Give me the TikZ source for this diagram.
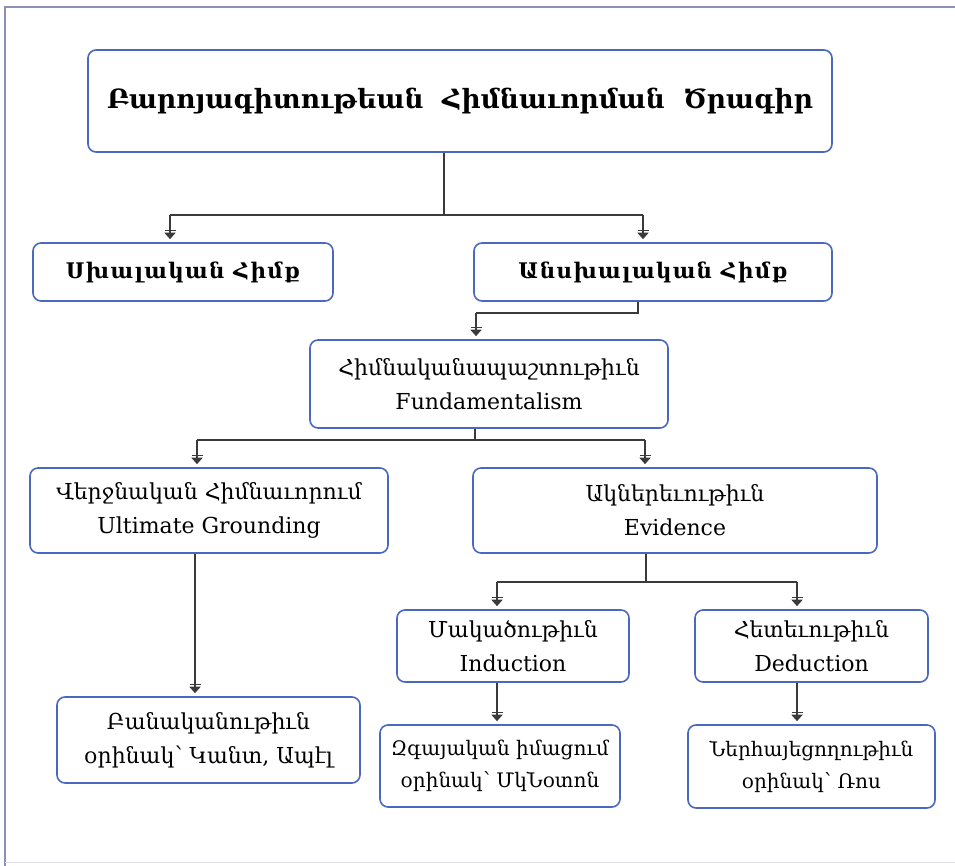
\documentclass[tikz,border=0pt]{standalone}
\usepackage{fontspec}
\setmainfont{DejaVu Serif}
\usetikzlibrary{arrows.meta}
\definecolor{boxblue}{HTML}{4A68BE}
\definecolor{linegray}{HTML}{3A3A3A}
\definecolor{framegray}{HTML}{8C90B4}
\tikzset{
  box/.style={draw=boxblue, line width=1.6pt, rounded corners=8pt, fill=white,
    align=center, inner sep=0pt, font=\fontsize{22}{34}\selectfont},
  conn/.style={draw=linegray, line width=1.6pt},
  arr/.style={conn, -{Bar[width=11pt,line width=1.6pt,sep=1.5pt] Triangle[width=11pt,length=6.5pt]}, shorten >=3pt},
}
\begin{document}
\begin{tikzpicture}[x=1pt,y=-1pt]
\useasboundingbox (0,0) rectangle (955,866);
\draw[framegray, line width=2pt] (5,866) -- (5,7) -- (955,7);
\draw[framegray!30, line width=1pt] (5,862) -- (955,862);

\node[box, minimum width=744pt, minimum height=102pt, font=\fontsize{26.5}{30}\selectfont\bfseries] (title) at (460,101) {Բարոյագիտութեան\ \ Հիմնաւորման\ \ Ծրագիր};
\node[box, minimum width=300pt, minimum height=58pt, font=\fontsize{21.5}{24}\selectfont\bfseries\addfontfeatures{LetterSpace=6}] (sx) at (183,272) {Սխալական Հիմք};
\node[box, minimum width=358pt, minimum height=58pt, font=\fontsize{21.5}{24}\selectfont\bfseries\addfontfeatures{LetterSpace=6}] (ansx) at (653,272) {Անսխալական Հիմք};
\node[box, minimum width=358pt, minimum height=88pt] (fund) at (489,384) {Հիմնականապաշտութիւն\\Fundamentalism};
\node[box, minimum width=358pt, minimum height=85pt] (ult) at (209,510.5) {Վերջնական Հիմնաւորում\\Ultimate Grounding};
\node[box, minimum width=404pt, minimum height=85pt] (evid) at (675,510.5) {Ակներեւութիւն\\Evidence};
\node[box, minimum width=232pt, minimum height=72pt] (ind) at (513,646) {Մակածութիւն\\Induction};
\node[box, minimum width=233pt, minimum height=72pt] (ded) at (811.5,646) {Հետեւութիւն\\Deduction};
\node[box, minimum width=303pt, minimum height=86pt] (ban) at (208.5,740) {Բանականութիւն\\օրինակ՝ Կանտ, Ապէլ};
\node[box, minimum width=240pt, minimum height=82pt, font=\fontsize{20}{32}\selectfont] (zga) at (500,766) {Զգայական իմացում\\օրինակ՝ ՄկՆօտոն};
\node[box, minimum width=247pt, minimum height=83pt, font=\fontsize{20}{32}\selectfont] (ner) at (811.5,766.5) {Ներհայեցողութիւն\\օրինակ՝ Ռոս};

% title -> two bases
\coordinate (j1) at (444,215);
\coordinate (a1) at (170,215);
\coordinate (a2) at (643,215);
\draw[conn] (title.south -| j1) -- (j1);
\draw[conn] (a1) -- (a2);
\draw[arr] (a1) -- (a1 |- sx.north);
\draw[arr] (a2) -- (a2 |- ansx.north);

% ansx -> fund
\coordinate (j2) at (638,313);
\coordinate (a3) at (476,313);
\draw[conn] (ansx.south -| j2) -- (j2) -- (a3);
\draw[arr] (a3) -- (a3 |- fund.north);

% fund -> ult, evid
\coordinate (j3) at (475,440);
\coordinate (a4) at (197,440);
\coordinate (a5) at (645,440);
\draw[conn] (fund.south -| j3) -- (j3);
\draw[conn] (a4) -- (a5);
\draw[arr] (a4) -- (a4 |- ult.north);
\draw[arr] (a5) -- (a5 |- evid.north);

% ult -> ban
\coordinate (a6) at (195,553);
\draw[arr] (ult.south -| a6) -- (a6 |- ban.north);

% evid -> ind, ded
\coordinate (j4) at (646,582);
\coordinate (a7) at (497,582);
\coordinate (a8) at (797,582);
\draw[conn] (evid.south -| j4) -- (j4);
\draw[conn] (a7) -- (a8);
\draw[arr] (a7) -- (a7 |- ind.north);
\draw[arr] (a8) -- (a8 |- ded.north);

% ind -> zga, ded -> ner
\coordinate (a9) at (497,682);
\coordinate (a10) at (797,682);
\draw[arr] (ind.south -| a9) -- (a9 |- zga.north);
\draw[arr] (ded.south -| a10) -- (a10 |- ner.north);
\end{tikzpicture}
\end{document}
